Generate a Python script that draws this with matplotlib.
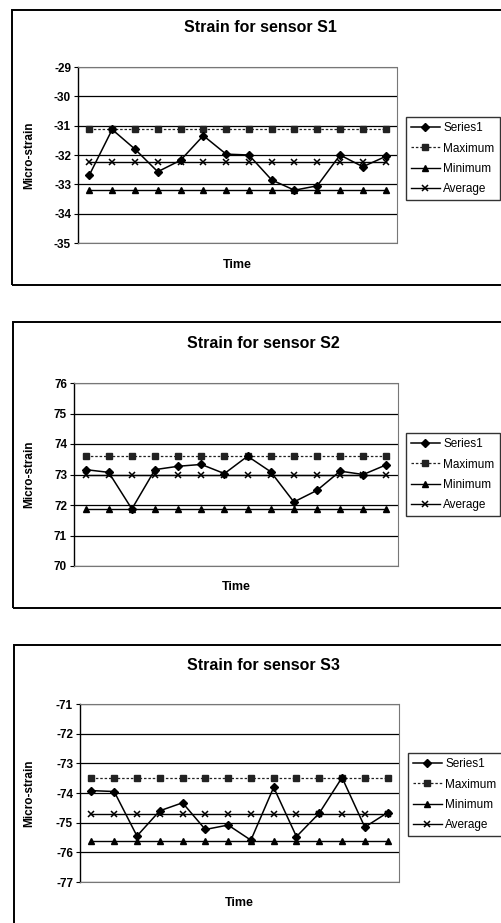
import numpy as np
import matplotlib
matplotlib.use('Agg')
import matplotlib.pyplot as plt
from matplotlib.patches import Rectangle

plt.rcParams['font.family'] = ['Liberation Sans', 'DejaVu Sans']
plt.rcParams['axes.unicode_minus'] = False

time = np.arange(1, 15)

# sensor S1
s1_series = [-32.68, -31.13, -31.8, -32.57, -32.18, -31.34, -31.97,
             -32.0, -32.85, -33.2, -33.05, -32.0, -32.4, -32.05]
s1_max, s1_min, s1_avg = -31.13, -33.2, -32.23

# sensor S2
s2_series = [73.16, 73.07, 71.87, 73.16, 73.27, 73.33, 73.03,
             73.6, 73.09, 72.1, 72.48, 73.11, 73.0, 73.32]
s2_max, s2_min, s2_avg = 73.6, 71.87, 72.99

# sensor S3
s3_series = [-73.92, -73.95, -75.45, -74.6, -74.33, -75.23, -75.08,
             -75.59, -73.81, -75.47, -74.68, -73.48, -75.15, -74.66]
s3_max, s3_min, s3_avg = -73.48, -75.61, -74.71

titles = ['Strain for sensor S1', 'Strain for sensor S2', 'Strain for sensor S3']
ylims = [(-35, -29), (70, 76), (-77, -71)]

W, H = 502, 923
fig = plt.figure(figsize=(W / 100, H / 100), dpi=100)


def fx(px):
    return px / W


def fy(py):
    return 1 - py / H


# pixel layout of each panel: axes box, chart frame, title, "Time", legend
panels = [
    dict(ax=(78, 67, 397, 243), frame=(12, 10, 285), title=(260, 28),
         xlab=(237, 265), leg=(406, 117)),
    dict(ax=(74, 383, 398, 566), frame=(13, 322, 608), title=(263, 343),
         xlab=(236, 587), leg=(406, 433)),
    dict(ax=(80, 704, 399, 882), frame=(14, 645, 930), title=(263, 665),
         xlab=(239, 903), leg=(408, 753)),
]

data = [
    (s1_series, s1_max, s1_min, s1_avg),
    (s2_series, s2_max, s2_min, s2_avg),
    (s3_series, s3_max, s3_min, s3_avg),
]

for p, (series, vmax, vmin, vavg), title, ylim in zip(panels, data, titles, ylims):
    x0, y0, x1, y1 = p['ax']
    ax = fig.add_axes([fx(x0), fy(y1), fx(x1 - x0), (y1 - y0) / H])

    # outer chart frame, running off the right edge like the scan
    l, t, b = p['frame']
    fig.patches.append(Rectangle((fx(l), fy(b)), 1.2, (b - t) / H,
                                 transform=fig.transFigure, fill=False,
                                 edgecolor='black', linewidth=1.4, clip_on=False))

    n = len(series)
    ax.plot(time, series, color='black', lw=1.1, marker='D', ms=4, label='Series1', zorder=5)
    ax.plot(time, np.full(n, vmax), color='#222222', lw=0.9, ls=(0, (2, 1.5)),
            marker='s', ms=4, label='Maximum', zorder=4)
    ax.plot(time, np.full(n, vmin), color='black', lw=1.0, marker='^', ms=4.5,
            label='Minimum', zorder=4)
    ax.plot(time, np.full(n, vavg), color='black', lw=1.0, marker='x', ms=5,
            mew=1.1, label='Average', zorder=4)

    ax.set_xlim(0.5, 14.5)
    ax.set_ylim(*ylim)
    ax.set_yticks(np.arange(ylim[0], ylim[1] + 1, 1))
    ax.set_xticks([])
    ax.yaxis.grid(True, color='black', lw=0.9)
    ax.set_axisbelow(True)
    ax.tick_params(axis='y', labelsize=8.5, length=3, width=0.8, pad=2)
    for lab in ax.get_yticklabels():
        lab.set_fontweight('bold')

    ax.spines['left'].set_linewidth(1.0)
    for s in ('top', 'right', 'bottom'):
        ax.spines[s].set_color('#777777')
        ax.spines[s].set_linestyle((0, (2, 1)))
        ax.spines[s].set_linewidth(0.8)

    ax.set_ylabel('Micro-strain', fontsize=8.5, fontweight='bold')
    ax.yaxis.set_label_coords(-(x0 - 35) / (x1 - x0), 0.5)

    fig.text(fx(p['title'][0]), fy(p['title'][1]), title, fontsize=11.5,
             fontweight='bold', ha='center', va='center')
    fig.text(fx(p['xlab'][0]), fy(p['xlab'][1]), 'Time', fontsize=9,
             fontweight='bold', ha='center', va='center')

    lx, ly = p['leg']
    leg = ax.legend(loc='upper left', bbox_to_anchor=(fx(lx), fy(ly)),
                    bbox_transform=fig.transFigure, fontsize=8.5, frameon=True,
                    fancybox=False, edgecolor='black', handlelength=2.4,
                    labelspacing=0.7, borderpad=0.45, handletextpad=0.3,
                    borderaxespad=0)
    leg.get_frame().set_linewidth(1.0)

fig.savefig('out.png', dpi=100)
